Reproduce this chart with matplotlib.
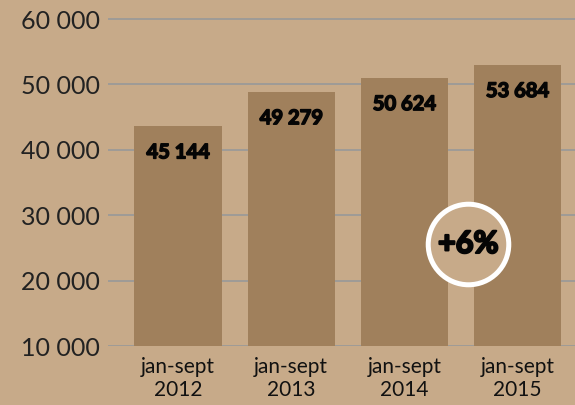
import matplotlib
matplotlib.use("Agg")
import matplotlib.pyplot as plt
import matplotlib.patheffects as pe

# Data
categories = ["jan-sept\n2012", "jan-sept\n2013", "jan-sept\n2014", "jan-sept\n2015"]
bar_heights = [43650, 48880, 51030, 53030]   # bar tops as drawn in the picture
value_labels = ["45 144", "49 279", "50 624", "53 684"]
y_ticks = [10000, 20000, 30000, 40000, 50000, 60000]
y_tick_labels = ["10 000", "20 000", "30 000", "40 000", "50 000", "60 000"]
growth_label = "+6%"

BG = "#c7aa89"
BAR = "#a0805c"
GRID = "#9b9a98"

fig = plt.figure(figsize=(5.75, 4.05), dpi=100, facecolor=BG)
ax = fig.add_axes([108.3 / 575, 59 / 405, 1 - 108.3 / 575, 346 / 405])
ax.set_facecolor(BG)

x = list(range(len(categories)))
ax.bar(x, bar_heights, width=0.77, color=BAR, zorder=3, bottom=0)

ax.set_ylim(10000, 62920)
ax.set_xlim(-0.616, 3.508)
ax.set_yticks(y_ticks)
ax.set_yticklabels(y_tick_labels, fontsize=18, family="Lato", fontweight="normal",
                   color="#222222")
ax.set_xticks(x)
ax.set_xticklabels(categories, fontsize=15, family="Lato", color="#111111",
                   linespacing=1.15)
ax.tick_params(axis="y", length=0, pad=6)
ax.tick_params(axis="x", length=0, pad=8)
for s in ax.spines.values():
    s.set_visible(False)
ax.grid(axis="y", color=GRID, linewidth=1.3, zorder=1)
ax.set_axisbelow(True)

heavy = [pe.withStroke(linewidth=1.1, foreground="#050505")]
for xi, h, lab in zip(x, bar_heights, value_labels):
    ax.annotate(lab, (xi, h), xytext=(0, -19), textcoords="offset points",
                ha="center", va="center", fontsize=14.5, family="Lato",
                fontweight="bold", color="#050505", zorder=5, path_effects=heavy)

# growth badge
ax.scatter([0.771], [0.295], transform=ax.transAxes, s=58 ** 2, marker="o",
           facecolor=BG, edgecolor="white", linewidths=3.6, zorder=6, clip_on=False)
ax.text(0.771, 0.295, growth_label, transform=ax.transAxes, ha="center", va="center",
        fontsize=22, family="Lato", fontweight="bold", color="#050505", zorder=7,
        path_effects=[pe.withStroke(linewidth=1.6, foreground="#050505")])

fig.savefig("out.png", dpi=100, facecolor=BG)
